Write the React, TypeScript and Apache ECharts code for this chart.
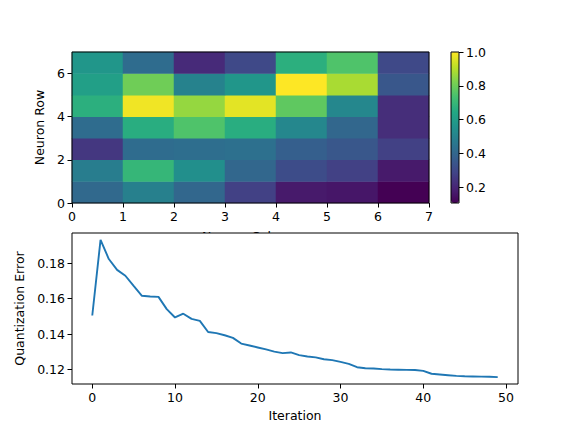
import React, { useEffect, useRef } from "react";
import * as echarts from "echarts";

const colCats = ["0", "1", "2", "3", "4", "5", "6"];
const rowCats = ["0", "1", "2", "3", "4", "5", "6"];
// rows listed bottom (row 0) to top (row 6)
const somRows: number[][] = [
  [0.411, 0.491, 0.402, 0.277, 0.170, 0.161, 0.107],
  [0.482, 0.696, 0.545, 0.402, 0.312, 0.277, 0.170],
  [0.250, 0.420, 0.428, 0.437, 0.375, 0.348, 0.277],
  [0.420, 0.661, 0.750, 0.661, 0.518, 0.402, 0.223],
  [0.670, 0.982, 0.857, 0.964, 0.777, 0.518, 0.223],
  [0.607, 0.804, 0.500, 0.571, 1.000, 0.884, 0.348],
  [0.571, 0.420, 0.214, 0.303, 0.670, 0.750, 0.303],
];
const heatXTicks = [0, 1, 2, 3, 4, 5, 6, 7];
const heatYTicks = [0, 2, 4, 6];
const cbarTicks = [0.2, 0.4, 0.6, 0.8, 1.0];

const quantError = [
  0.1505, 0.1931, 0.1823, 0.1762, 0.1729, 0.1672, 0.1616, 0.1612, 0.1610, 0.1541,
  0.1494, 0.1515, 0.1486, 0.1475, 0.1412, 0.1406, 0.1394, 0.1379, 0.1347, 0.1336,
  0.1325, 0.1314, 0.1302, 0.1293, 0.1297, 0.1282, 0.1274, 0.1269, 0.1259, 0.1254,
  0.1244, 0.1233, 0.1214, 0.1208, 0.1207, 0.1203, 0.1201, 0.1200, 0.1199, 0.1198,
  0.1193, 0.1177, 0.1173, 0.1169, 0.1165, 0.1163, 0.1162, 0.1161, 0.1160, 0.1158,
];
const iterTicks = [0, 10, 20, 30, 40, 50];
const errTicks = [0.12, 0.14, 0.16, 0.18];

const viridis = [
  "#440154", "#482475", "#414487", "#355f8d", "#2a788e", "#21918c",
  "#22a884", "#44bf70", "#7ad151", "#bddf26", "#fde725",
];

const FONT = "DejaVu Sans";

export default function App() {
  const ref = useRef<HTMLDivElement>(null);
  useEffect(() => {
    if (!ref.current) return;
    const chart = echarts.init(ref.current, null, { renderer: "svg" });
    const heatData: number[][] = [];
    somRows.forEach((row, r) => row.forEach((v, c) => heatData.push([c, r, v])));
    const flat = somRows.flat();
    const vmin = Math.min(...flat);
    const vmax = Math.max(...flat);
    const lineData = quantError.map((v, i) => [i, v]);
    const emin = Math.min(...quantError);
    const emax = Math.max(...quantError);
    const emarg = (emax - emin) * 0.05;
    const xmarg = (quantError.length - 1) * 0.05;

    const label = { color: "#000", fontFamily: FONT, fontSize: 12.5 };
    const tick = { show: true, inside: false, length: 4.5, lineStyle: { color: "#000", width: 1 } };
    const noLine = { show: false, onZero: false };

    chart.setOption({
      animation: false,
      backgroundColor: "#fff",
      textStyle: { fontFamily: FONT },
      grid: [
        { left: 72, top: 52, width: 357, height: 151, show: true, borderColor: "#000", borderWidth: 1, backgroundColor: "transparent", z: 6 },
        { left: 72, top: 233, width: 446, height: 151, show: true, borderColor: "#000", borderWidth: 1, backgroundColor: "transparent", z: 6 },
        { left: 451, top: 52, width: 8, height: 151, show: true, borderColor: "#000", borderWidth: 1, backgroundColor: "transparent", z: 10 },
      ],
      xAxis: [
        { type: "category", gridIndex: 0, data: colCats, show: false, position: "bottom", axisLine: noLine },
        {
          type: "value", gridIndex: 0, min: 0, max: 7, position: "bottom", z: 0,
          axisLine: noLine, splitLine: { show: false },
          axisTick: { ...tick, customValues: heatXTicks },
          axisLabel: { ...label, margin: 7, customValues: heatXTicks },
          name: "Neuron Column", nameLocation: "middle", nameGap: 27,
          nameTextStyle: { ...label },
        },
        {
          type: "value", gridIndex: 1, min: -xmarg, max: quantError.length - 1 + xmarg, position: "bottom", z: 6,
          axisLine: noLine, splitLine: { show: false },
          axisTick: { ...tick, customValues: iterTicks },
          axisLabel: { ...label, margin: 7, customValues: iterTicks },
          name: "Iteration", nameLocation: "middle", nameGap: 25,
          nameTextStyle: { ...label },
        },
        { type: "value", gridIndex: 2, show: false, min: 0, max: 1, axisLine: noLine },
      ],
      yAxis: [
        { type: "category", gridIndex: 0, data: rowCats, show: false, axisLine: noLine },
        {
          type: "value", gridIndex: 0, min: 0, max: 7, position: "left",
          axisLine: noLine, splitLine: { show: false },
          axisTick: { ...tick, customValues: heatYTicks },
          axisLabel: { ...label, margin: 7, customValues: heatYTicks },
          name: "Neuron Row", nameLocation: "middle", nameGap: 22,
          nameTextStyle: { ...label },
        },
        {
          type: "value", gridIndex: 1, min: emin - emarg, max: emax + emarg, position: "left", z: 6,
          axisLine: noLine, splitLine: { show: false },
          axisTick: { ...tick, customValues: errTicks },
          axisLabel: { ...label, margin: 7, customValues: errTicks, formatter: (v: number) => v.toFixed(2) },
          name: "Quantization Error", nameLocation: "middle", nameGap: 40,
          nameTextStyle: { ...label },
        },
        {
          type: "value", gridIndex: 2, min: vmin, max: vmax, position: "right",
          axisLine: noLine, splitLine: { show: false },
          axisTick: { ...tick, customValues: cbarTicks },
          axisLabel: { ...label, margin: 7, customValues: cbarTicks, formatter: (v: number) => v.toFixed(1) },
        },
      ],
      visualMap: {
        type: "continuous",
        seriesIndex: 0,
        min: vmin,
        max: vmax,
        left: 451,
        top: 52,
        itemWidth: 8,
        itemHeight: 151,
        padding: 0,
        calculable: false,
        realtime: false,
        showLabel: false,
        text: null,
        inRange: { color: viridis },
        z: 4,
      },
      graphic: {
        elements: [
          { type: "rect", z: 1, zlevel: 0, shape: { x: 72, y: 233, width: 446, height: 151 }, style: { fill: "#fff" } },
        ],
      },
      series: [
        {
          type: "heatmap", xAxisIndex: 0, yAxisIndex: 0, data: heatData,
          itemStyle: { borderWidth: 0 }, emphasis: { disabled: true },
        },
        {
          type: "line", xAxisIndex: 2, yAxisIndex: 2, data: lineData, showSymbol: false, z: 3,
          lineStyle: { color: "#1f77b4", width: 1.9 },
        },
      ],
    });
    return () => chart.dispose();
  }, []);
  return <div ref={ref} style={{ width: 576, height: 432, position: "fixed", left: 0, top: 0 }} />;
}
